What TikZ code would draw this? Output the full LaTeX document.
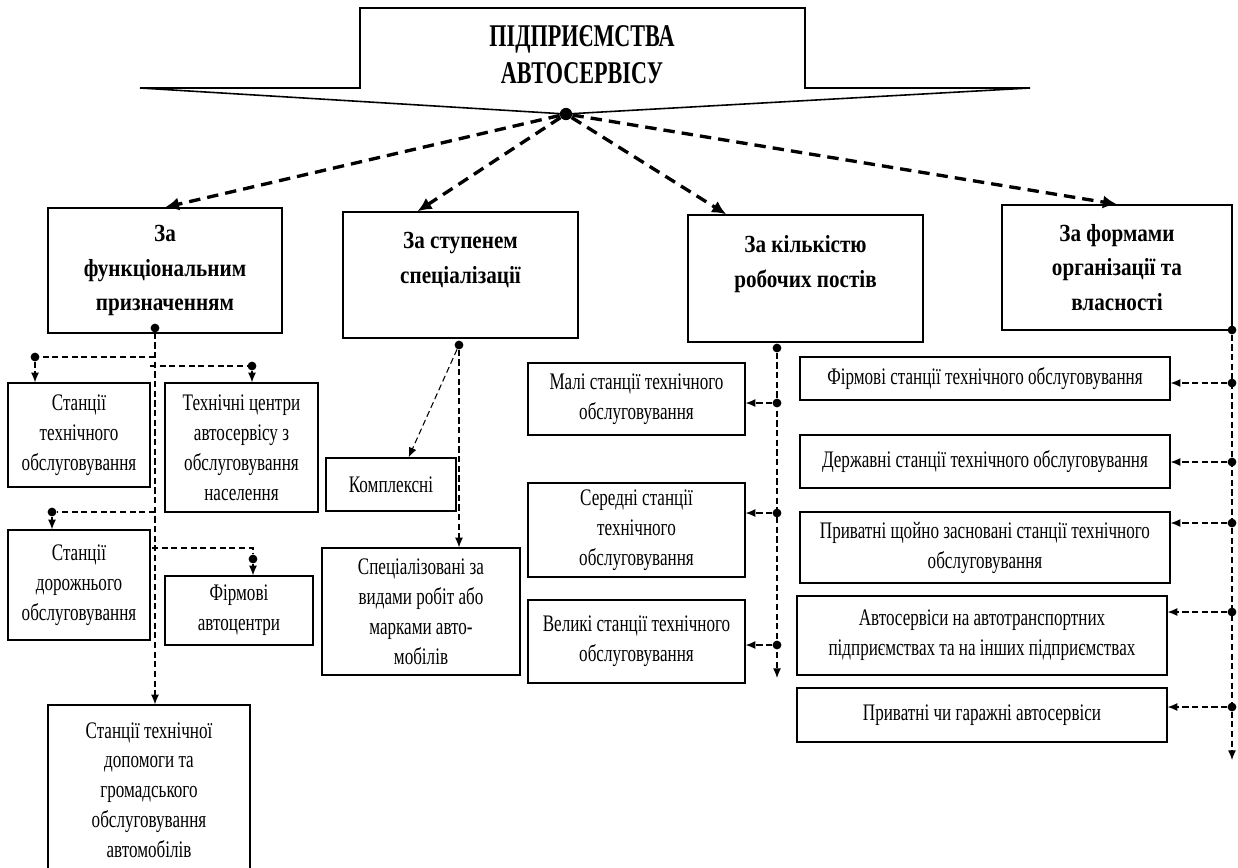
\documentclass[tikz,border=0pt]{standalone}
\usepackage{fontspec}
\setmainfont{Liberation Serif}[FakeStretch=0.72,BoldFeatures={FakeStretch=0.86}]
\newfontfamily\titlefont{Liberation Serif}[FakeStretch=0.7]
\usetikzlibrary{arrows.meta}

\begin{document}
\begin{tikzpicture}[x=0.02cm,y=-0.02cm,
  cat/.style={draw,line width=0.8pt,align=center,inner sep=2pt,font=\bfseries\fontsize{14}{19.5}\selectfont},
  item/.style={draw,line width=0.8pt,align=center,inner sep=2pt,font=\fontsize{13.5}{17}\selectfont},
  dot/.style={circle,fill,inner sep=0pt,minimum size=5pt},
  bigarrow/.style={line width=1.9pt,dash pattern=on 6.5pt off 4pt,-{Latex[length=8pt,width=7.5pt]}},
  link/.style={line width=0.6pt,dash pattern=on 3.5pt off 2pt},
  linkarrow/.style={link,-{Latex[length=5.5pt,width=4.5pt]}}]
\useasboundingbox (0,0) rectangle (1238,867);
\clip (0,0) rectangle (1238,867);

% header
\coordinate (apex) at (566,114);
\draw[line width=0.9pt] (140,88) -- (360,88) -- (360,8) -- (805,8) -- (805,88) -- (1030,88) -- (apex) -- cycle;
\node[font=\titlefont\bfseries\fontsize{18}{21}\selectfont,align=center] (title) at (582,55) {ПІДПРИЄМСТВА\\АВТОСЕРВІСУ};
\node[dot,minimum size=7pt] (top) at (apex) {};

% categories
\node[cat,minimum width=4.68cm,minimum height=2.5cm] (func) at (165,270.5) {За\\функціональним\\призначенням};
\node[cat,minimum width=4.7cm,minimum height=2.52cm] (spec) at (460.5,275) {За ступенем\\спеціалізації\\~};
\node[cat,minimum width=4.7cm,minimum height=2.54cm] (posts) at (805.5,278.5) {За кількістю\\робочих постів\\~};
\node[cat,minimum width=4.6cm,minimum height=2.5cm] (forms) at (1117,267.5) {За формами\\організації та\\власності};

\draw[bigarrow] (top) -- (func.north);
\draw[bigarrow] (top) -- (spec.124);
\draw[bigarrow] (top) -- (posts.141);
\draw[bigarrow] (top) -- (forms.north);

% by function
\node[item,minimum width=2.84cm,minimum height=2.08cm] (sto) at (79,435) {Станції\\технічного\\обслуговування};
\node[item,minimum width=3.06cm,minimum height=2.58cm] (tcentr) at (241.5,447.5) {Технічні центри\\автосервісу з\\обслуговування\\населення};
\node[item,minimum width=2.84cm,minimum height=2.2cm] (sdo) at (79,585) {Станції\\дорожнього\\обслуговування};
\node[item,minimum width=2.96cm,minimum height=1.38cm] (firm) at (239,610.5) {Фірмові\\автоцентри};
\node[item,minimum width=4.04cm,minimum height=3.4cm] (help) at (149,790) {Станції технічної\\допомоги та\\громадського\\обслуговування\\автомобілів};

\node[dot] (fd) at (155,328) {};
\node[dot] (d1) at (35,357) {};
\node[dot] (d2) at (252,366) {};
\node[dot] (d3) at (52,512) {};
\node[dot] (d4) at (253,559) {};
\coordinate (j1) at (155,357);
\coordinate (j2) at (150,366);
\coordinate (j3) at (155,512);
\coordinate (j4) at (152,548);

\draw[linkarrow] (fd) -- (fd |- help.north);
\draw[link] (j1) -- (d1);
\draw[linkarrow] (d1) -- (d1 |- sto.north);
\draw[link] (j2) -- (d2);
\draw[linkarrow] (d2) -- (d2 |- tcentr.north);
\draw[link] (j3) -- (d3);
\draw[linkarrow] (d3) -- (d3 |- sdo.north);
\draw[link] (j4) -- (j4 -| d4) -- (d4);
\draw[linkarrow] (d4) -- (d4 |- firm.north);

% by specialisation
\node[item,minimum width=2.6cm,minimum height=1.06cm] (kompl) at (391,484.5) {Комплексні};
\node[item,minimum width=3.96cm,minimum height=2.54cm] (spez) at (421,611.5) {Спеціалізовані за\\видами робіт або\\марками авто-\\мобілів};

\node[dot] (sd) at (459,345) {};
\draw[linkarrow] (sd) -- (kompl.57);
\draw[linkarrow] (sd) -- (sd |- spez.north);

% by number of posts
\node[item,minimum width=4.34cm,minimum height=1.44cm] (mali) at (636.5,399) {Малі станції технічного\\обслуговування};
\node[item,minimum width=4.34cm,minimum height=1.88cm] (seredni) at (636.5,530) {Середні станції\\технічного\\обслуговування};
\node[item,minimum width=4.34cm,minimum height=1.66cm] (veliki) at (636.5,641.5) {Великі станції технічного\\обслуговування};

\node[dot] (pd) at (777,348) {};
\node[dot] (pm) at (777,403) {};
\node[dot] (ps) at (777,513) {};
\node[dot] (pv) at (777,645) {};
\coordinate (pend) at (777,678);
\draw[linkarrow] (pd) -- (pend);
\draw[linkarrow] (pm) -- (pm -| mali.east);
\draw[linkarrow] (ps) -- (ps -| seredni.east);
\draw[linkarrow] (pv) -- (pv -| veliki.east);

% by forms of ownership
\node[item,minimum width=7.4cm,minimum height=0.86cm] (f1) at (985,378.5) {Фірмові станції технічного обслуговування};
\node[item,minimum width=7.4cm,minimum height=1.06cm] (f2) at (985,461.5) {Державні станції технічного обслуговування};
\node[item,minimum width=7.4cm,minimum height=1.42cm] (f3) at (985,547.5) {Приватні щойно засновані станції технічного\\обслуговування};
\node[item,minimum width=7.4cm,minimum height=1.58cm] (f4) at (982,635.5) {Автосервіси на автотранспортних\\підприємствах та на інших підприємствах};
\node[item,minimum width=7.4cm,minimum height=1.08cm] (f5) at (982,715) {Приватні чи гаражні автосервіси};

\node[dot] (od) at (1232,330) {};
\node[dot] (o1) at (1232,383) {};
\node[dot] (o2) at (1232,462) {};
\node[dot] (o3) at (1232,523) {};
\node[dot] (o4) at (1232,612) {};
\node[dot] (o5) at (1232,707) {};
\coordinate (oend) at (1232,760);
\draw[linkarrow] (od) -- (oend);
\draw[linkarrow] (o1) -- (o1 -| f1.east);
\draw[linkarrow] (o2) -- (o2 -| f2.east);
\draw[linkarrow] (o3) -- (o3 -| f3.east);
\draw[linkarrow] (o4) -- (o4 -| f4.east);
\draw[linkarrow] (o5) -- (o5 -| f5.east);
\end{tikzpicture}
\end{document}
